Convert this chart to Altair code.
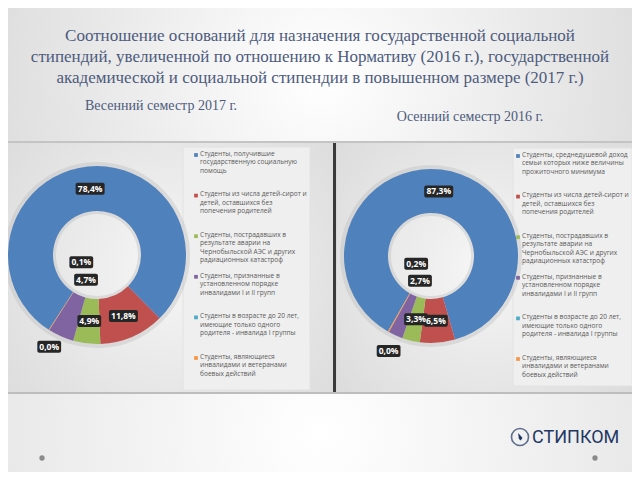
import math
import altair as alt
import pandas as pd

W, H = 624, 464

# ---------------- data ----------------
title_lines = [
    "Соотношение оснований для назначения государственной социальной",
    "стипендий, увеличенной по отношению к Нормативу (2016 г.), государственной",
    "академической и социальной стипендии в повышенном размере (2017 г.)",
]
subtitle_left = "Весенний семестр 2017 г."
subtitle_right = "Осенний семестр 2016 г."

colors = ["#4F81BD", "#C0504D", "#9BBB59", "#8064A2", "#4BACC6", "#F79646"]
spring_values = [78.4, 11.8, 4.9, 4.7, 0.0, 0.1]
autumn_values = [87.3, 6.5, 3.3, 2.7, 0.0, 0.2]

common_legend = [
    "Студенты из числа детей-сирот и\nдетей, оставшихся без\nпопечения родителей",
    "Студенты, пострадавших в\nрезультате аварии на\nЧернобыльской АЭС и других\nрадиационных катастроф",
    "Студенты, признанные в\nустановленном порядке\nинвалидами I и II групп",
    "Студенты в возрасте до 20 лет,\nимеющие только одного\nродителя - инвалида I группы",
    "Студенты, являющиеся\nинвалидами и ветеранами\nбоевых действий",
]
spring_legend = ["Студенты, получившие\nгосударственную социальную\nпомощь"] + common_legend
autumn_legend = ["Студенты, среднедушевой доход\nсемьи которых ниже величины\nпрожиточного минимума"] + common_legend
logo_text = "СТИПКОМ"

# ---------------- helpers ----------------
XS = alt.Scale(domain=[0, W], range=[0, W], nice=False, zero=False)
YS = alt.Scale(domain=[0, H], range=[0, H], nice=False, zero=False)
one = pd.DataFrame({"k": [0]})


def radial(c0, c1, r2=0.75):
    return {"gradient": "radial",
            "stops": [{"offset": 0, "color": c0}, {"offset": 1, "color": c1}],
            "x1": 0.5, "y1": 0.5, "r1": 0, "x2": 0.5, "y2": 0.5, "r2": r2}


def box(x1, y1, x2, y2, **kw):
    return alt.Chart(one).mark_rect(**kw).encode(
        x=alt.value(x1), x2=alt.value(x2), y=alt.value(y1), y2=alt.value(y2))


def donut(vals, cx, cy, r_in, r_out, start_deg):
    s = math.radians(start_deg)
    df = pd.DataFrame({"i": list(range(len(vals))), "v": vals, "c": colors})
    base = (alt.Chart(df)
            .transform_window(cum="sum(v)", sort=[alt.SortField("i")])
            .transform_joinaggregate(tot="sum(v)")
            .transform_calculate(a0=f"{s} + 2*PI*(datum.cum - datum.v)/datum.tot")
            .transform_calculate(a1=f"{s} + 2*PI*datum.cum/datum.tot")
            .transform_calculate(am="(datum.a0 + datum.a1)/2")
            .transform_calculate(label="replace(format(datum.v, '.1f'), '.', ',') + '%'"))
    halo = base.mark_arc(innerRadius=r_in - 3, outerRadius=r_out + 4, fill="#b8b8b8", opacity=0.35).encode(
        theta=alt.Theta("a0:Q", scale=None), theta2="a1:Q",
        x=alt.value(cx), y=alt.value(cy))
    arcs = base.mark_arc(innerRadius=r_in, outerRadius=r_out).encode(
        theta=alt.Theta("a0:Q", scale=None), theta2="a1:Q",
        fill=alt.Fill("c:N", scale=None),
        x=alt.value(cx), y=alt.value(cy))
    layers = [halo, arcs]

    def lab(idx, r, ox, oy):
        b = (base.transform_filter(alt.FieldOneOfPredicate(field="i", oneOf=idx))
             .transform_calculate(lx=f"{cx} + {r}*sin(datum.am) + {ox}")
             .transform_calculate(ly=f"{cy} - {r}*cos(datum.am) + {oy}")
             .transform_calculate(bw="length(datum.label)*5.2 + 3")
             .transform_calculate(bx1="datum.lx - datum.bw/2", bx2="datum.lx + datum.bw/2",
                                  by1="datum.ly - 6", by2="datum.ly + 6"))
        rect = b.mark_rect(fill="#262626", cornerRadius=2).encode(
            x=alt.X("bx1:Q", scale=XS, axis=None), x2="bx2:Q",
            y=alt.Y("by1:Q", scale=YS, axis=None), y2="by2:Q")
        txt = b.mark_text(color="white", fontWeight="bold", fontSize=8.5, font="Open Sans",
                          baseline="middle", align="center").encode(
            x=alt.X("lx:Q", scale=XS, axis=None),
            y=alt.Y("ly:Q", scale=YS, axis=None),
            text="label:N")
        return [rect, txt]

    rm = (r_in + r_out) / 2
    layers += lab([0, 1, 2], rm, 0, 0)
    layers += lab([3], 27, 0, 0)
    layers += lab([4], 104, 8, 4)
    layers += lab([5], 18, -6, -8)
    return layers


def legend(texts, x_sq, y0, step=40.6):
    df = pd.DataFrame({"i": list(range(len(texts))), "t": texts, "c": colors})
    b = alt.Chart(df).transform_calculate(ly=f"{y0} + datum.i*{step}")
    sq = b.mark_square(size=14, opacity=1).encode(
        x=alt.value(x_sq), y=alt.Y("ly:Q", scale=YS, axis=None),
        color=alt.Color("c:N", scale=None))
    tx = b.transform_calculate(ty="datum.ly - 4.3").mark_text(
        align="left", baseline="top", fontSize=6.6, lineHeight=8.5, lineBreak="\n",
        font="Open Sans", color="#5a5a5a").encode(
        x=alt.value(x_sq + 4), y=alt.Y("ty:Q", scale=YS, axis=None), text="t:N")
    return [sq, tx]


# ---------------- layers ----------------
layers = []
# top header background
layers.append(box(0, 0, W, 134, fill=radial("#ffffff", "#d2d2d2", 0.72)))
# gray band with chart panels
layers.append(box(0, 134, W, 385, fill="#d8d8d8"))
layers.append(box(0, 135, 325, 384, fill=radial("#f6f6f6", "#dadada", 0.7)))
layers.append(box(329, 135, W, 384, fill=radial("#f6f6f6", "#dadada", 0.7)))
layers.append(box(325, 134, 328, 385, fill="#3a3a3a"))
layers.append(box(0, 133, W, 135, fill="#c4c4c4"))
# legend boxes
layers.append(box(175, 139, 302, 382, fill="#efefef", stroke="#e2e2e2", strokeWidth=1))
layers.append(box(505, 140, 624, 378, fill="#efefef", stroke="#e2e2e2", strokeWidth=1))
# bottom area
layers.append(box(0, 385, W, H, fill=radial("#ffffff", "#dcdcdc", 0.8)))
layers.append(box(0, 384, W, 386, fill="#bdbdbd"))

# title
tdf = pd.DataFrame({"i": list(range(len(title_lines))), "t": title_lines})
layers.append(alt.Chart(tdf).transform_calculate(ty="28 + datum.i*21").mark_text(
    font="Liberation Serif", fontSize=17, color="#4d5b7c", align="center", baseline="middle").encode(
    x=alt.value(312), y=alt.Y("ty:Q", scale=YS, axis=None), text="t:N"))
layers.append(alt.Chart(pd.DataFrame({"t": [subtitle_left]})).mark_text(
    font="Liberation Serif", fontSize=14, color="#4d5b7c", align="center", baseline="middle").encode(
    x=alt.value(153), y=alt.value(98), text="t:N"))
layers.append(alt.Chart(pd.DataFrame({"t": [subtitle_right]})).mark_text(
    font="Liberation Serif", fontSize=14, color="#4d5b7c", align="center", baseline="middle").encode(
    x=alt.value(462), y=alt.value(109), text="t:N"))

# donuts
layers += donut(spring_values, 89, 247, 44, 89, 212.8)
layers += donut(autumn_values, 423, 248, 43, 87, 209.7)

# legends
layers += legend(spring_legend, 188, 147)
layers += legend(autumn_legend, 510, 148)

# logo
layers.append(alt.Chart(one).mark_point(shape="circle", size=290, filled=False, stroke="#1f3864", strokeWidth=1.6).encode(
    x=alt.value(512), y=alt.value(429)))
layers.append(alt.Chart(one).mark_point(
    shape="M-0.35,-0.75L0.45,0.15L0.15,0.65L-0.2,0.35Z", size=120, filled=True, fill="#1f3864", opacity=1).encode(
    x=alt.value(512), y=alt.value(429)))
layers.append(alt.Chart(pd.DataFrame({"t": [logo_text]})).mark_text(
    font="Roboto", fontSize=18, color="#1f3864", align="left", baseline="middle").encode(
    x=alt.value(524), y=alt.value(430), text="t:N"))
# slide dots
layers.append(alt.Chart(pd.DataFrame({"px": [34, 587], "py": [450, 450]})).mark_circle(
    size=28, color="#8a8a8a", opacity=1).encode(
    x=alt.X("px:Q", scale=XS, axis=None), y=alt.Y("py:Q", scale=YS, axis=None)))

chart = alt.layer(*layers).properties(width=W, height=H, padding=0, autosize="none",
                                     background="#ffffff").configure_view(stroke=None)

chart.save("out.html", embed_options={"renderer": "svg", "actions": False})
